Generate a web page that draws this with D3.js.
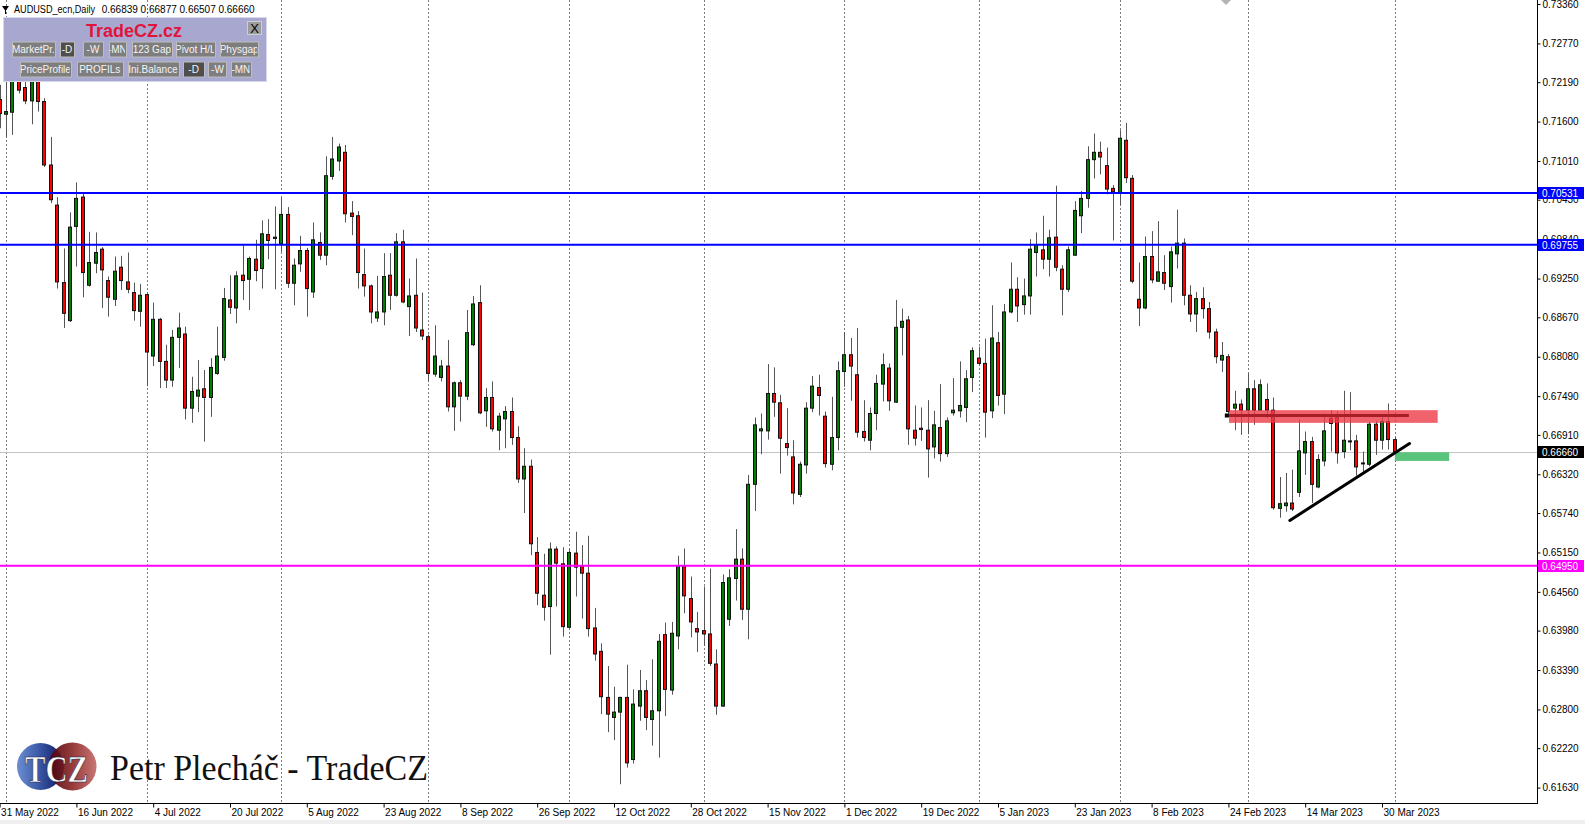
<!DOCTYPE html>
<html><head><meta charset="utf-8">
<script src="https://cdn.jsdelivr.net/npm/d3@7"></script>
<style>html,body{margin:0;padding:0;background:#fff;overflow:hidden}</style>
</head><body>
<svg id="c" width="1585" height="824"></svg>
<script>
// ---------------- DATA ----------------
const symbolTitle = "AUDUSD_ecn,Daily";
const lastQuote = ["0.66839", "0.66877", "0.66507", "0.66660"];
const firstDay = "2022-05-31", lastDay = "2023-04-03";
const missingDays = ["2022-12-26"];
// daily candles [open, high, low, close], one per trading day from firstDay
const ohlc = [
[0.7193,0.7215,0.7150,0.7172],[0.7171,0.7230,0.7137,0.7175],[0.7174,0.7249,0.7140,0.7237],[0.7236,0.7245,0.7202,0.7207],
[0.7211,0.7222,0.7186,0.7191],[0.7191,0.7249,0.7156,0.7240],[0.7237,0.7246,0.7175,0.7190],[0.7190,0.7195,0.7092,0.7095],
[0.7095,0.7137,0.7038,0.7043],[0.7035,0.7047,0.6910,0.6920],[0.6919,0.6970,0.6851,0.6873],[0.6862,0.7024,0.6860,0.7002],
[0.7003,0.7069,0.6943,0.7045],[0.7047,0.7052,0.6897,0.6934],[0.6915,0.6995,0.6913,0.6949],[0.6948,0.6994,0.6933,0.6964],
[0.6969,0.6972,0.6881,0.6938],[0.6922,0.6928,0.6868,0.6897],[0.6894,0.6958,0.6884,0.6936],[0.6942,0.6959,0.6908,0.6922],
[0.6920,0.6964,0.6903,0.6909],[0.6904,0.6919,0.6862,0.6877],[0.6876,0.6917,0.6853,0.6900],[0.6901,0.6903,0.6764,0.6815],
[0.6809,0.6889,0.6794,0.6864],[0.6864,0.6866,0.6761,0.6801],[0.6801,0.6826,0.6761,0.6773],[0.6773,0.6848,0.6763,0.6837],
[0.6837,0.6874,0.6791,0.6851],[0.6842,0.6853,0.6714,0.6731],[0.6731,0.6778,0.6709,0.6756],[0.6749,0.6803,0.6725,0.6758],
[0.6760,0.6788,0.6681,0.6747],[0.6747,0.6806,0.6718,0.6792],[0.6783,0.6853,0.6781,0.6809],[0.6807,0.6911,0.6802,0.6895],
[0.6893,0.6930,0.6872,0.6882],[0.6881,0.6936,0.6858,0.6929],[0.6930,0.6975,0.6893,0.6922],[0.6924,0.6958,0.6878,0.6955],
[0.6954,0.6983,0.6921,0.6937],[0.6940,0.7012,0.6910,0.6992],[0.6991,0.7014,0.6954,0.6982],[0.6985,0.7033,0.6909,0.6987],
[0.6977,0.7046,0.6965,0.7021],[0.7021,0.7032,0.6911,0.6918],[0.6918,0.6955,0.6885,0.6945],[0.6947,0.6989,0.6935,0.6967],
[0.6967,0.6971,0.6868,0.6910],[0.6905,0.7009,0.6896,0.6983],[0.6979,0.6994,0.6953,0.6960],[0.6960,0.7108,0.6945,0.7079],
[0.7078,0.7137,0.7073,0.7104],[0.7101,0.7127,0.7086,0.7122],[0.7114,0.7125,0.7009,0.7022],[0.7023,0.7041,0.6990,0.7018],
[0.7019,0.7026,0.6910,0.6934],[0.6931,0.6970,0.6898,0.6914],[0.6914,0.6916,0.6858,0.6875],[0.6866,0.6929,0.6860,0.6875],
[0.6875,0.6963,0.6855,0.6928],[0.6930,0.6963,0.6878,0.6900],[0.6900,0.6993,0.6898,0.6980],[0.6980,0.6998,0.6888,0.6890],
[0.6883,0.6925,0.6839,0.6899],[0.6900,0.6955,0.6845,0.6851],[0.6848,0.6904,0.6833,0.6839],[0.6838,0.6841,0.6771,0.6783],
[0.6782,0.6855,0.6778,0.6809],[0.6777,0.6803,0.6771,0.6794],[0.6794,0.6833,0.6726,0.6733],[0.6733,0.6771,0.6697,0.6769],
[0.6769,0.6773,0.6711,0.6749],[0.6749,0.6878,0.6743,0.6844],[0.6826,0.6899,0.6824,0.6887],[0.6889,0.6915,0.6722,0.6724],
[0.6727,0.6761,0.6703,0.6747],[0.6747,0.6771,0.6696,0.6700],[0.6698,0.6724,0.6668,0.6719],[0.6715,0.6734,0.6671,0.6726],
[0.6726,0.6747,0.6676,0.6687],[0.6687,0.6704,0.6619,0.6625],[0.6625,0.6671,0.6574,0.6644],[0.6644,0.6654,0.6511,0.6528],
[0.6515,0.6538,0.6436,0.6454],[0.6451,0.6513,0.6413,0.6433],[0.6434,0.6530,0.6362,0.6520],[0.6520,0.6524,0.6434,0.6499],
[0.6498,0.6523,0.6389,0.6404],[0.6403,0.6520,0.6402,0.6515],[0.6514,0.6546,0.6449,0.6493],[0.6494,0.6526,0.6416,0.6484],
[0.6484,0.6540,0.6389,0.6401],[0.6402,0.6432,0.6353,0.6363],[0.6367,0.6379,0.6273,0.6299],[0.6298,0.6345,0.6246,0.6273],
[0.6268,0.6314,0.6234,0.6276],[0.6276,0.6299,0.6168,0.6298],[0.6298,0.6347,0.6193,0.6200],[0.6205,0.6310,0.6199,0.6288],
[0.6285,0.6339,0.6263,0.6308],[0.6308,0.6324,0.6249,0.6268],[0.6265,0.6355,0.6226,0.6278],[0.6278,0.6393,0.6208,0.6382],
[0.6392,0.6410,0.6270,0.6310],[0.6309,0.6411,0.6302,0.6394],[0.6390,0.6510,0.6370,0.6494],[0.6494,0.6521,0.6424,0.6450],
[0.6446,0.6479,0.6388,0.6411],[0.6401,0.6426,0.6366,0.6396],[0.6398,0.6464,0.6375,0.6393],[0.6393,0.6491,0.6345,0.6349],
[0.6348,0.6370,0.6272,0.6285],[0.6285,0.6482,0.6284,0.6470],[0.6415,0.6490,0.6405,0.6477],[0.6476,0.6550,0.6443,0.6505],
[0.6505,0.6521,0.6414,0.6430],[0.6430,0.6631,0.6385,0.6617],[0.6617,0.6717,0.6577,0.6706],[0.6697,0.6723,0.6662,0.6700],
[0.6697,0.6797,0.6684,0.6753],[0.6753,0.6792,0.6718,0.6740],[0.6739,0.6751,0.6633,0.6686],[0.6678,0.6731,0.6660,0.6672],
[0.6658,0.6683,0.6587,0.6604],[0.6602,0.6651,0.6598,0.6647],[0.6646,0.6740,0.6633,0.6731],[0.6731,0.6779,0.6725,0.6764],
[0.6762,0.6781,0.6720,0.6750],[0.6719,0.6726,0.6642,0.6648],[0.6647,0.6748,0.6638,0.6687],[0.6687,0.6801,0.6668,0.6787],
[0.6786,0.6845,0.6763,0.6811],[0.6811,0.6836,0.6742,0.6794],[0.6781,0.6851,0.6687,0.6695],[0.6696,0.6743,0.6681,0.6687],
[0.6683,0.6732,0.6668,0.6723],[0.6723,0.6781,0.6698,0.6768],[0.6767,0.6813,0.6741,0.6796],[0.6791,0.6798,0.6727,0.6742],
[0.6740,0.6893,0.6739,0.6852],[0.6852,0.6880,0.6810,0.6861],[0.6863,0.6869,0.6676,0.6700],[0.6698,0.6735,0.6675,0.6686],
[0.6701,0.6732,0.6682,0.6699],[0.6698,0.6743,0.6627,0.6670],[0.6673,0.6727,0.6656,0.6706],[0.6702,0.6767,0.6651,0.6663],
[0.6663,0.6717,0.6658,0.6712],[0.6724,0.6776,0.6720,0.6728],[0.6727,0.6801,0.6717,0.6735],[0.6732,0.6788,0.6710,0.6775],
[0.6777,0.6822,0.6755,0.6817],[0.6806,0.6823,0.6795,0.6798],[0.6798,0.6835,0.6687,0.6725],[0.6727,0.6885,0.6716,0.6836],
[0.6829,0.6845,0.6735,0.6750],[0.6752,0.6887,0.6722,0.6875],[0.6875,0.6949,0.6873,0.6909],[0.6909,0.6927,0.6860,0.6884],
[0.6886,0.6925,0.6871,0.6899],[0.6899,0.6984,0.6871,0.6969],[0.6964,0.6994,0.6928,0.6975],[0.6968,0.7019,0.6939,0.6954],
[0.6954,0.6998,0.6928,0.6986],[0.6987,0.7064,0.6936,0.6942],[0.6939,0.6945,0.6870,0.6909],[0.6909,0.6973,0.6905,0.6968],
[0.6960,0.7041,0.6959,0.7027],[0.7019,0.7056,0.6993,0.7045],[0.7045,0.7123,0.7031,0.7103],[0.7103,0.7142,0.7075,0.7114],
[0.7114,0.7130,0.7081,0.7107],[0.7094,0.7121,0.7051,0.7059],[0.7060,0.7065,0.6982,0.7055],[0.7054,0.7147,0.7035,0.7135],
[0.7132,0.7158,0.7068,0.7076],[0.7075,0.7080,0.6918,0.6921],[0.6894,0.6949,0.6854,0.6881],[0.6881,0.6988,0.6879,0.6958],
[0.6958,0.6996,0.6918,0.6923],[0.6921,0.7011,0.6921,0.6935],[0.6934,0.6960,0.6908,0.6918],[0.6913,0.6973,0.6889,0.6965],
[0.6962,0.7028,0.6940,0.6978],[0.6978,0.6985,0.6885,0.6900],[0.6900,0.6915,0.6860,0.6872],[0.6872,0.6905,0.6845,0.6895],
[0.6895,0.6912,0.6865,0.6880],[0.6880,0.6890,0.6835,0.6845],[0.6845,0.6850,0.6798,0.6808],[0.6803,0.6830,0.6785,0.6810],
[0.6808,0.6812,0.6720,0.6726],[0.6731,0.6757,0.6698,0.6737],[0.6737,0.6744,0.6691,0.6728],[0.6728,0.6783,0.6692,0.6760],
[0.6760,0.6773,0.6706,0.6728],[0.6728,0.6774,0.6727,0.6766],[0.6744,0.6768,0.6716,0.6728],[0.6728,0.6747,0.6579,0.6582],
[0.6581,0.6628,0.6567,0.6588],[0.6585,0.6634,0.6576,0.6589],[0.6589,0.6639,0.6577,0.6580],[0.6605,0.6714,0.6598,0.6667],
[0.6664,0.6696,0.6631,0.6681],[0.6681,0.6688,0.6589,0.6617],[0.6613,0.6662,0.6611,0.6654],[0.6652,0.6723,0.6644,0.6697],
[0.6716,0.6728,0.6666,0.6708],[0.6717,0.6726,0.6648,0.6664],[0.6666,0.6757,0.6656,0.6683],[0.6681,0.6755,0.6668,0.6682],
[0.6682,0.6691,0.6630,0.6643],[0.6649,0.6666,0.6636,0.6648],[0.6647,0.6711,0.6644,0.6707],[0.6707,0.6712,0.6661,0.6683],
[0.6683,0.6718,0.6669,0.6711],[0.6711,0.6738,0.6669,0.6684],[0.66839,0.66877,0.66507,0.66660]
];
const priceTicks = [0.7336,0.7277,0.7219,0.7160,0.7101,0.7043,0.6984,0.6925,0.6867,0.6808,0.6749,
                    0.6691,0.6632,0.6574,0.6515,0.6456,0.6398,0.6339,0.6280,0.6222,0.6163];
const priceDomain = [0.6163, 0.7336];
const dateLabels = ["31 May 2022","16 Jun 2022","4 Jul 2022","20 Jul 2022","5 Aug 2022","23 Aug 2022",
  "8 Sep 2022","26 Sep 2022","12 Oct 2022","28 Oct 2022","15 Nov 2022","1 Dec 2022","19 Dec 2022",
  "5 Jan 2023","23 Jan 2023","8 Feb 2023","24 Feb 2023","14 Mar 2023","30 Mar 2023"];
const dateLabelStep = 12;
const levelPrices = [0.70531, 0.69755, 0.64950];
const levelColors = ["#0000ff", "#0000ff", "#ff00ff"];
const currentPrice = 0.66660;
// drawn objects: bar-index positions and prices
const resistanceZone = [192.1, 224.7, 0.6709, 0.6728];
const supportZone = [218.0, 226.5, 0.6652, 0.6665];
const resistanceLine = [191.6, 220.2, 0.6720];
const trendLine = [[201.6, 0.6563], [220.3, 0.6678]];
const panelTitle = "TradeCZ.cz";
const panelRow1 = ["MarketPr.", "-D", "-W", "-MN", "123 Gap", "Pivot H/L", "Physgap"];
const panelRow2 = ["PriceProfile", "PROFILs", "Ini.Balance", "-D", "-W", "-MN"];
const logoText = "TCZ";
const brandText = "Petr Plecháč - TradeCZ";

// ---------------- LAYOUT ----------------
const W = 1585, H = 824, plotR = 1537, plotB = 803;
const FONT = "'Liberation Sans', Arial, sans-serif";
const svg = d3.select("#c");
svg.append("rect").attr("width", W).attr("height", H).attr("fill", "#fff");

const parse = d3.utcParse("%Y-%m-%d"), key = d3.utcFormat("%Y-%m-%d");
const days = d3.utcDay.range(parse(firstDay), d3.utcDay.offset(parse(lastDay), 1))
  .filter(d => d.getUTCDay() !== 0 && d.getUTCDay() !== 6 && !missingDays.includes(key(d)));

const x = d3.scaleLinear().domain([0, 1]).range([-0.4, 6.0]);
const y = d3.scaleLinear().domain(priceDomain).range([787.6, 4]);

const defs = svg.append("defs");
defs.append("clipPath").attr("id", "plotClip").append("rect")
  .attr("x", 0).attr("y", 0).attr("width", plotR).attr("height", plotB);

const plot = svg.append("g").attr("clip-path", "url(#plotClip)");

// month-start grid lines
const monthStarts = days.map((d, i) => i).filter(i => i > 0 && days[i].getUTCMonth() !== days[i - 1].getUTCMonth());
plot.selectAll("line.grid").data(monthStarts).join("line").attr("class", "grid")
  .attr("x1", i => Math.round(x(i)) + 0.5).attr("x2", i => Math.round(x(i)) + 0.5)
  .attr("y1", 0).attr("y2", plotB)
  .attr("stroke", "#7c7c7c").attr("stroke-width", 1).attr("stroke-dasharray", "2,2");

// current price line
plot.append("line").attr("x1", 0).attr("x2", plotR)
  .attr("y1", Math.round(y(currentPrice)) + 0.5).attr("y2", Math.round(y(currentPrice)) + 0.5)
  .attr("stroke", "#c4c4c4").attr("stroke-width", 1);

// candles
const candles = plot.append("g");
const cg = candles.selectAll("g").data(ohlc).join("g");
cg.append("line")
  .attr("x1", (d, i) => Math.round(x(i)) + 0.5).attr("x2", (d, i) => Math.round(x(i)) + 0.5)
  .attr("y1", d => y(d[1])).attr("y2", d => y(d[2]))
  .attr("stroke", "#555").attr("stroke-width", 1);
cg.append("rect")
  .attr("x", (d, i) => Math.round(x(i)) - 1.5)
  .attr("y", d => y(Math.max(d[0], d[3])))
  .attr("width", 3)
  .attr("height", d => Math.max(1, y(Math.min(d[0], d[3])) - y(Math.max(d[0], d[3]))))
  .attr("fill", d => d[3] >= d[0] ? "#008000" : "#ff0000")
  .attr("stroke", "#111").attr("stroke-width", 1);

// horizontal levels
plot.selectAll("line.level").data(levelPrices).join("line").attr("class", "level")
  .attr("x1", 0).attr("x2", plotR)
  .attr("y1", d => y(d)).attr("y2", d => y(d))
  .attr("stroke", (d, i) => levelColors[i]).attr("stroke-width", 2);

// zones and lines
plot.append("rect")
  .attr("x", x(resistanceZone[0])).attr("width", x(resistanceZone[1]) - x(resistanceZone[0]))
  .attr("y", y(resistanceZone[3])).attr("height", y(resistanceZone[2]) - y(resistanceZone[3]))
  .attr("fill", "#ec3c48").attr("opacity", 0.8);
plot.append("line")
  .attr("x1", x(resistanceLine[0])).attr("x2", x(resistanceLine[1]))
  .attr("y1", y(resistanceLine[2])).attr("y2", y(resistanceLine[2]))
  .attr("stroke", "#a81e26").attr("stroke-width", 3);
plot.append("rect")
  .attr("x", x(resistanceLine[0]) - 1).attr("y", y(resistanceLine[2]) - 2)
  .attr("width", 4).attr("height", 4).attr("fill", "#000");
plot.append("rect")
  .attr("x", x(supportZone[0])).attr("width", x(supportZone[1]) - x(supportZone[0]))
  .attr("y", y(supportZone[3])).attr("height", y(supportZone[2]) - y(supportZone[3]))
  .attr("fill", "#5bc47c");
plot.append("line")
  .attr("x1", x(trendLine[0][0])).attr("y1", y(trendLine[0][1]))
  .attr("x2", x(trendLine[1][0])).attr("y2", y(trendLine[1][1]))
  .attr("stroke", "#000").attr("stroke-width", 3).attr("stroke-linecap", "round");

// shift marker at top
svg.append("path").attr("d", "M1221,0 L1231,0 L1226,5 Z").attr("fill", "#b4b4b4");

// ---------------- AXES ----------------
svg.append("line").attr("x1", plotR + 0.5).attr("x2", plotR + 0.5).attr("y1", 0).attr("y2", plotB + 1)
  .attr("stroke", "#000");
svg.append("line").attr("x1", 0).attr("x2", plotR + 1).attr("y1", plotB + 0.5).attr("y2", plotB + 0.5)
  .attr("stroke", "#000");

const yAxis = svg.append("g").attr("transform", `translate(${plotR + 0.5},0)`)
  .call(d3.axisRight(y).tickValues(priceTicks).tickSize(3).tickPadding(2).tickFormat(d3.format(".5f")));
yAxis.select(".domain").remove();
yAxis.selectAll("text").attr("font-family", FONT).attr("font-size", 10).attr("fill", "#000");
yAxis.selectAll("line").attr("stroke", "#000");

const xAxis = svg.append("g").attr("transform", `translate(0,${plotB + 0.5})`)
  .call(d3.axisBottom(x).tickValues(dateLabels.map((_, k) => k * dateLabelStep))
    .tickSize(4).tickPadding(2).tickFormat((d, k) => dateLabels[k]));
xAxis.select(".domain").remove();
xAxis.selectAll("text").attr("font-family", FONT).attr("font-size", 10).attr("fill", "#000")
  .attr("text-anchor", "start").attr("x", 1).attr("dy", "0.62em");
xAxis.selectAll("line").attr("stroke", "#000");

// axis price boxes
const boxPrices = levelPrices.concat([currentPrice]);
const boxColors = levelColors.concat(["#000"]);
const boxes = svg.append("g").selectAll("g").data(boxPrices).join("g")
  .attr("transform", d => `translate(${plotR + 1},${Math.round(y(d))})`);
boxes.append("rect").attr("x", 0).attr("y", -6).attr("width", 46).attr("height", 12)
  .attr("fill", (d, i) => boxColors[i]);
boxes.append("text").attr("x", 4).attr("y", 0).attr("dy", "0.35em")
  .attr("font-family", FONT).attr("font-size", 10).attr("fill", "#fff")
  .text(d => d3.format(".5f")(d));

// bottom window strip
svg.append("rect").attr("x", 0).attr("y", 820).attr("width", W).attr("height", 4).attr("fill", "#efefef");

// ---------------- HEADER ----------------
svg.append("path").attr("d", "M2,6 L9,6 L5.5,11 Z").attr("fill", "#000");
svg.append("line").attr("x1", 5.5).attr("x2", 5.5).attr("y1", 10).attr("y2", 14).attr("stroke", "#000");
svg.append("text").attr("x", 14).attr("y", 12.5).attr("font-family", FONT).attr("font-size", 10)
  .attr("textLength", 81).attr("lengthAdjust", "spacingAndGlyphs").text(symbolTitle);
svg.append("text").attr("x", 101.7).attr("y", 12.5).attr("font-family", FONT).attr("font-size", 10)
  .text(lastQuote.join(" "));

// ---------------- PANEL ----------------
const panel = svg.append("g");
panel.append("rect").attr("x", 3.5).attr("y", 17.5).attr("width", 263).attr("height", 64)
  .attr("fill", "#a7a7d0").attr("stroke", "#d6d6ea");
panel.append("text").attr("x", 134).attr("y", 36.5).attr("text-anchor", "middle")
  .attr("font-family", FONT).attr("font-weight", "bold").attr("font-size", 18).attr("fill", "#e0143c")
  .text(panelTitle);
panel.append("rect").attr("x", 247.5).attr("y", 21.5).attr("width", 14).attr("height", 13)
  .attr("fill", "#9c9c9c").attr("stroke", "#cfcfcf");
panel.append("text").attr("x", 254.5).attr("y", 32.5).attr("text-anchor", "middle")
  .attr("font-family", FONT).attr("font-size", 13).attr("fill", "#000").text("X");

const row1X = [[11.7, 55], [60, 74], [83, 103], [108.7, 126], [131.7, 172], [175.7, 215], [220, 258.3]];
const row2X = [[20, 70.7], [76.7, 122.7], [127.7, 178.3], [183.3, 204], [208.3, 226.7], [231, 250.7]];
const dark1 = [1], dark2 = [3];
function buttons(labels, xs, y0, darkIdx, rowId) {
  labels.forEach((lab, i) => {
    const [a, b] = xs[i];
    const id = `btn${rowId}_${i}`;
    defs.append("clipPath").attr("id", id).append("rect")
      .attr("x", a + 1).attr("y", y0).attr("width", b - a - 2).attr("height", 15);
    panel.append("rect").attr("x", Math.round(a) + 0.5).attr("y", y0 + 0.5)
      .attr("width", Math.round(b - a)).attr("height", 15)
      .attr("fill", darkIdx.includes(i) ? "#4e4e4e" : "#7e7e7e").attr("stroke", "#bdbdbd");
    panel.append("text").attr("x", (a + b) / 2).attr("y", y0 + 11.5).attr("text-anchor", "middle")
      .attr("clip-path", `url(#${id})`)
      .attr("font-family", FONT).attr("font-size", 10).attr("fill", "#f4f4f4").text(lab);
  });
}
buttons(panelRow1, row1X, 41.5, dark1, 1);
buttons(panelRow2, row2X, 61.5, dark2, 2);

// ---------------- LOGO ----------------
const gB = defs.append("linearGradient").attr("id", "gBlue").attr("x1", "0").attr("x2", "1");
gB.append("stop").attr("offset", "0").attr("stop-color", "#6d8fd2");
gB.append("stop").attr("offset", "0.45").attr("stop-color", "#3c5aa8");
gB.append("stop").attr("offset", "1").attr("stop-color", "#0b1560");
const gR = defs.append("linearGradient").attr("id", "gRed").attr("x1", "0").attr("x2", "1");
gR.append("stop").attr("offset", "0").attr("stop-color", "#4a0008");
gR.append("stop").attr("offset", "0.5").attr("stop-color", "#8e2a2a");
gR.append("stop").attr("offset", "1").attr("stop-color", "#c46a6a");
svg.append("circle").attr("cx", 40.5).attr("cy", 766.5).attr("r", 23.5).attr("fill", "url(#gBlue)");
svg.append("circle").attr("cx", 72.5).attr("cy", 766.5).attr("r", 24).attr("fill", "url(#gRed)").attr("opacity", 0.92);
svg.append("text").attr("x", 25).attr("y", 781.5)
  .attr("font-family", "'Liberation Serif', 'Times New Roman', serif").attr("font-weight", "bold")
  .attr("font-size", 38).attr("fill", "#fff").attr("stroke", "#1a1a40").attr("stroke-width", 0.6)
  .attr("textLength", 63).attr("lengthAdjust", "spacingAndGlyphs").text(logoText);
svg.append("text").attr("x", 110).attr("y", 780)
  .attr("font-family", "'Liberation Serif', 'Times New Roman', serif")
  .attr("font-size", 36).attr("fill", "#111")
  .attr("textLength", 318).attr("lengthAdjust", "spacingAndGlyphs").text(brandText);
</script>
</body></html>
